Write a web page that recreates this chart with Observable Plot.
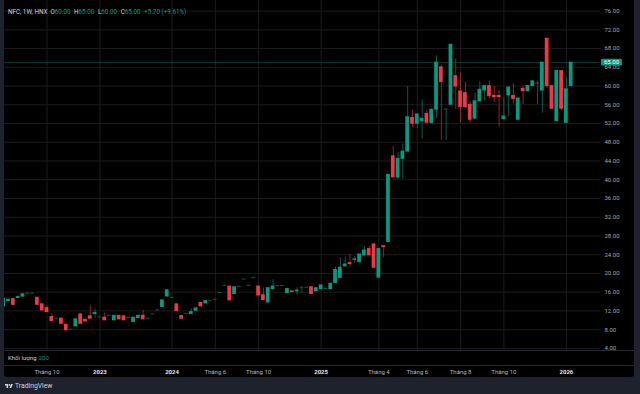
<!DOCTYPE html>
<html><head><meta charset="utf-8">
<script src="https://cdn.jsdelivr.net/npm/d3@7"></script>
<script src="https://cdn.jsdelivr.net/npm/@observablehq/plot@0.6"></script>
<style>
body{margin:0;background:#1e222d;}
#wrap{position:relative;width:640px;height:394px;background:#1e222d;overflow:hidden;font-family:Roboto,"Noto Sans",sans-serif;}
#pane{position:absolute;left:4px;top:0;width:630px;height:377px;background:#000;border-radius:0 0 3px 3px;}
#chart{position:absolute;left:0;top:0;}
#leftStrip{position:absolute;left:0;top:0;width:4px;height:394px;background:#1e222d;z-index:3;}
.sep{position:absolute;left:4px;width:630px;height:1px;background:#24272f;z-index:2;}
#header{position:absolute;left:8px;top:8px;font-size:6.3px;color:#d1d4dc;white-space:nowrap;z-index:2;}
#header .v{color:#089981;margin-right:3.5px;}
#header .k{color:#d1d4dc;}
#vol{position:absolute;left:8px;top:354px;font-size:6px;color:#d1d4dc;white-space:nowrap;z-index:2;}
#vol .v{color:#089981;margin-left:2px;}
#footer{position:absolute;left:5px;top:382px;font-size:6.8px;color:#d1d4dc;display:flex;align-items:center;gap:2px;}
</style>
</head><body>
<div id="wrap">
  <div id="pane"></div>
  <div id="chart"></div>
  <div class="sep" style="top:350px"></div>
  <div class="sep" style="top:365px"></div>
  <div id="leftStrip"></div>
  <div id="header"></div>
  <div id="vol">Khối lượng<span class="v">200</span></div>
  <div id="footer"><svg width="8" height="6" viewBox="0 0 36 26"><path d="M14 22H7V11H0V4h14v18z" fill="#d1d4dc"/><circle cx="20" cy="8" r="4" fill="#d1d4dc"/><path d="M28 22h-8l7.5-18h8L28 22z" fill="#d1d4dc"/></svg><span>TradingView</span></div>
</div>
<script>
// Weekly OHLC of NFC (HNX), bar index order (only weeks with trades)
const opens  = [13.0,14.1,14.5,14.75,15.05,15.7,15.7,14.8,13.4,12.6,10.7,10.35,10.35,9.05,8.0,8.7,11.25,10.1,10.85,11.35,10.6,10.55,10.95,10.0,10.95,10.85,10.5,9.65,10.5,10.95,10.3,11.25,12.1,12.85,15.1,14.8,13.4,10.9,11.4,11.35,12.05,13.7,13.6,14.15,14.35,15.8,17.35,17.2,15.6,17.15,18.7,17.35,19.05,17.2,15.35,13.8,16.65,17.3,17.3,15.8,16.15,16.2,16.95,16.95,17.05,16.2,16.65,16.7,16.65,17.95,19.05,21.5,22.2,22.9,22.4,23.85,25.2,26.2,19.1,25.8,26.7,45.0,40.5,44.45,46.0,53.2,51.95,52.5,54.05,52.1,54.95,64.0,55.0,56.0,62.1,58.85,58.5,56.0,53.05,56.75,59.05,60.0,57.9,57.9,52.95,58.0,57.9,52.8,59.4,58.9,60.0,60.5,59.05,70.1,60.0,52.5,63.2,52.15,60.0];
const highs  = [14.7,14.5,14.8,15.0,15.6,15.7,15.7,14.9,13.5,13.0,11.4,10.35,10.4,9.1,8.0,10.2,11.3,10.15,13.2,12.45,10.6,11.6,10.95,10.95,11.0,10.85,10.5,10.55,10.95,12.1,10.3,11.25,12.1,14.25,16.4,14.8,13.4,10.9,11.4,12.45,12.55,13.7,14.1,14.15,14.35,15.8,17.35,17.2,17.05,17.15,18.7,17.35,19.05,17.2,16.9,16.85,18.65,17.3,17.3,16.7,16.15,17.0,16.95,16.95,17.05,16.85,17.45,16.7,17.8,21.35,23.3,23.5,24.05,23.6,24.05,25.75,25.75,26.3,25.3,25.9,41.05,47.1,45.8,47.65,59.9,54.9,53.95,57.05,54.9,54.95,66.45,64.5,55.0,68.9,65.8,62.75,60.85,56.7,58.5,61.0,60.0,61.0,60.0,59.05,57.65,59.7,60.5,57.35,60.0,60.0,61.0,61.0,65.0,70.1,60.0,63.2,63.2,61.7,65.0];
const lows   = [12.9,14.1,13.2,14.7,15.0,15.7,15.7,13.3,12.1,11.75,9.8,10.35,9.25,7.85,8.0,8.7,9.25,9.75,10.3,10.35,10.6,10.0,10.95,10.0,10.2,10.0,10.5,9.65,10.5,10.2,10.3,11.25,12.1,12.85,14.8,14.8,11.95,10.35,11.4,11.35,12.05,12.95,13.6,14.15,14.35,15.8,17.35,14.25,15.6,17.15,18.7,17.35,19.05,15.3,14.3,13.8,16.65,17.3,17.3,15.8,16.0,15.35,15.8,16.95,15.6,16.2,16.65,16.7,16.65,17.95,19.05,21.5,21.35,22.05,22.4,23.85,23.85,21.2,19.0,23.3,26.7,40.5,40.05,40.05,46.0,51.1,50.95,48.7,52.15,52.1,53.0,48.4,48.4,56.0,55.0,52.1,55.2,52.1,53.0,56.6,56.8,57.25,56.55,51.25,52.9,53.5,56.2,52.8,56.05,58.9,60.0,56.05,54.2,59.5,55.15,52.5,54.8,52.15,60.0];
const closes = [14.6,14.4,13.3,14.95,15.55,15.7,15.7,13.3,12.1,11.75,9.85,10.35,9.25,7.85,8.0,10.2,9.25,9.75,10.35,11.55,10.6,10.0,10.95,10.95,10.2,10.0,10.5,10.55,10.95,10.2,10.3,11.25,12.1,14.25,16.4,14.8,11.95,10.35,11.4,11.75,12.55,12.95,14.1,14.15,14.35,15.8,17.35,14.25,17.05,17.15,18.7,17.35,19.05,15.3,14.3,16.85,17.2,17.3,17.3,16.7,16.0,16.35,16.95,16.95,15.6,16.85,17.45,16.7,17.8,20.75,21.2,21.9,22.0,23.0,24.05,24.9,23.85,21.2,25.25,25.6,41.05,40.5,44.45,46.0,53.35,51.95,53.95,53.0,52.15,54.95,65.0,60.85,55.0,68.8,59.9,55.5,55.5,52.8,56.75,59.2,60.0,57.85,57.65,57.65,53.5,59.7,57.25,57.35,58.9,60.0,61.0,60.5,65.0,60.0,55.15,63.2,55.15,59.3,65.0];

const priceTicks = [4,8,12,16,20,24,28,32,36,40,44,48,52,56,60,64,68,72,76];
const monthTickIdx = [9,44,53,78,86,95,104];
const monthTickLabels = ["Tháng 10","Tháng 6","Tháng 10","Tháng 4","Tháng 6","Tháng 8","Tháng 10"];
const yearTickIdx = [20,35,66,117];
const yearTickLabels = ["2023","2024","2025","2026"];

const header = {symbol:"NFC, 1W, HNX", o:"60.00", h:"65.00", l:"60.00", c:"65.00", chg:"+5.70 (+9.61%)"};

const GREEN = "#089981", RED = "#f23645";
const bars = opens.map((o,i) => ({i, open:o, high:highs[i], low:lows[i], close:closes[i]}));
const col = d => d.close >= d.open ? GREEN : RED;
const lastClose = closes[closes.length-1];

const W = 640, H = 377, mR = 40, mB = 27;
const chart = Plot.plot({
  width: W, height: H,
  marginLeft: 4, marginRight: mR, marginTop: 0, marginBottom: mB,
  style: {background:"transparent", fontFamily:"Roboto, 'Noto Sans', sans-serif", fontSize:"6px", color:"#a3a6af", overflow:"visible"},
  x: {type:"linear", domain:[0, bars.length-1], range:[3.2, 570.7], label:null},
  y: {type:"linear", domain:[4,76], range:[347.9,10.6], label:null},
  marks: [
    Plot.gridY(priceTicks, {stroke:"#1c1c1c", strokeOpacity:1}),
    Plot.gridX([...monthTickIdx, ...yearTickIdx], {stroke:"#1c1c1c", strokeOpacity:1}),
    Plot.ruleY([lastClose], {stroke:GREEN, strokeOpacity:0.45, strokeWidth:0.8}),
    Plot.ruleX(bars, {x:"i", y1:"low", y2:"high", stroke:col, strokeWidth:0.8, strokeOpacity:0.75}),
    Plot.rect(bars, {x1:d=>d.i-0.39, x2:d=>d.i+0.39, y1:"open", y2:"close", fill:col,
      fillOpacity: d => Math.abs(d.close-d.open) < 0.05 ? 0.6 : 1, insetTop:-0.5, insetBottom:-0.5}),
    Plot.axisY(priceTicks, {anchor:"right", label:null, tickSize:0, tickPadding:4, tickFormat:d=>d.toFixed(2), fill:"#a3a6af", fontSize:6}),
    Plot.axisX(monthTickIdx, {anchor:"bottom", label:null, tickSize:0, tickPadding:19, tickFormat:(d)=>monthTickLabels[monthTickIdx.indexOf(d)], fill:"#b2b5be", fontSize:6}),
    Plot.axisX(yearTickIdx, {anchor:"bottom", label:null, tickSize:0, tickPadding:19, tickFormat:(d)=>yearTickLabels[yearTickIdx.indexOf(d)], fill:"#e0e3eb", fontSize:6, fontWeight:"bold"})
  ]
});
document.getElementById("chart").appendChild(chart);

// current price label box on the price scale
const ys = chart.scale("y");
const yy = ys.apply(lastClose);
const sv = d3.select(chart);
const bx = W - mR + 1;
sv.append("rect").attr("x", bx).attr("y", yy-3.4).attr("width", 21).attr("height", 6.8).attr("rx", 1).attr("fill", GREEN);
sv.append("text").attr("x", bx+3).attr("y", yy).attr("dy","0.35em").attr("text-anchor","start").attr("fill","#fff").attr("font-size","6px").text(lastClose.toFixed(2));

// header legend
const hd = document.getElementById("header");
hd.innerHTML = `<span style="margin-right:3px">${header.symbol}</span><span class="k">O</span><span class="v">${header.o}</span><span class="k">H</span><span class="v">${header.h}</span><span class="k">L</span><span class="v">${header.l}</span><span class="k">C</span><span class="v">${header.c}</span><span class="v">${header.chg}</span>`;
</script>
</body></html>
